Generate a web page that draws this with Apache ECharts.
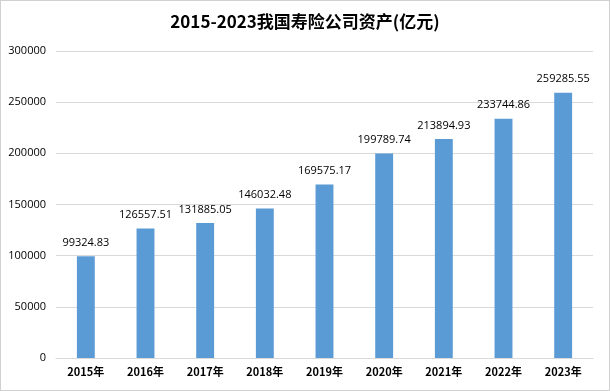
<!DOCTYPE html>
<html><head><meta charset="utf-8">
<script src="https://cdn.jsdelivr.net/npm/echarts@6/dist/echarts.min.js"></script>
<style>
html,body{margin:0;padding:0;background:#fff;}
#c{width:608px;height:389px;border:1px solid #d0d0d0;}
</style></head>
<body><div id="c"></div>
<script>
const categories = ['2015年','2016年','2017年','2018年','2019年','2020年','2021年','2022年','2023年'];
const assets = [99324.83,126557.51,131885.05,146032.48,169575.17,199789.74,213894.93,233744.86,259285.55];
const yTicks = [0,50000,100000,150000,200000,250000,300000];
const titleText = '2015-2023我国寿险公司资产(亿元)';

const ff = '"Open Sans","Noto Sans CJK SC",sans-serif';
const chart = echarts.init(document.getElementById('c'));
chart.setOption({
  animation:false,
  backgroundColor:'#fff',
  title:{text:titleText,left:'center',top:7,textStyle:{fontFamily:'"Noto Sans CJK SC",sans-serif',fontSize:17,fontWeight:'bold',color:'#000'}},
  grid:{left:55,right:16,top:50,bottom:32,containLabel:false},
  xAxis:{type:'category',data:categories,
    axisLine:{lineStyle:{color:'#d9d9d9'}},axisTick:{show:false},
    axisLabel:{color:'#000',fontWeight:'bold',fontSize:11,fontFamily:'"Noto Sans CJK SC",sans-serif',margin:8}},
  yAxis:{type:'value',min:yTicks[0],max:yTicks[yTicks.length-1],interval:50000,
    axisLine:{show:false},axisTick:{show:false},
    splitLine:{lineStyle:{color:'#d9d9d9'}},
    axisLabel:{color:'#000',fontSize:11,fontFamily:ff,margin:10,formatter:v=>String(v)}},
  series:[{type:'bar',data:assets,barWidth:'30%',
    itemStyle:{color:'#5b9bd5'},
    label:{show:true,position:'top',distance:8,color:'#000',fontSize:11,fontFamily:ff,
      formatter:p=>p.value.toFixed(2)}}]
});
</script></body></html>
